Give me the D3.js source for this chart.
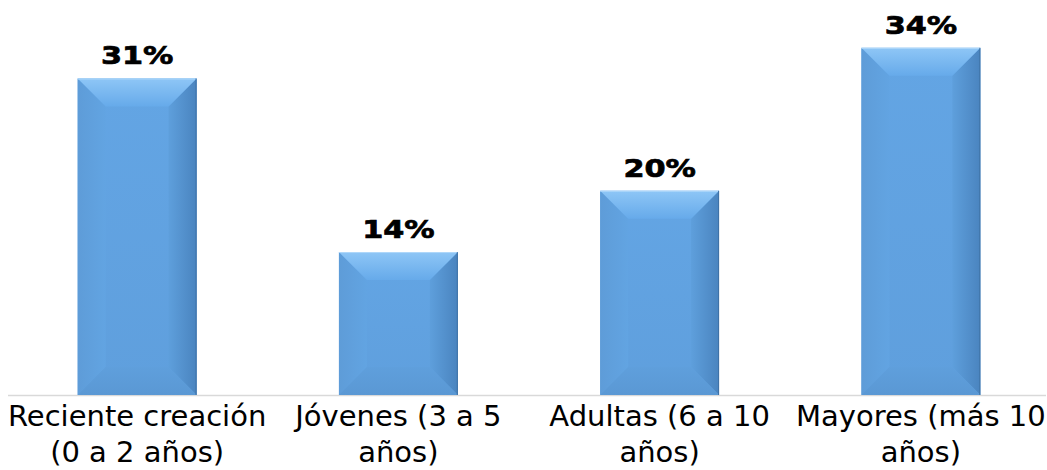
<!DOCTYPE html>
<html><head><meta charset="utf-8">
<script src="https://cdn.jsdelivr.net/npm/d3@7"></script>
<style>html,body{margin:0;padding:0;background:#fff;}svg{display:block;}</style>
</head><body>
<script>
const categories = ["Reciente creación (0 a 2 años)", "Jóvenes (3 a 5 años)", "Adultas (6 a 10 años)", "Mayores (más 10 años)"];
const labelLines = [["Reciente creación", "(0 a 2 años)"], ["Jóvenes (3 a 5", "años)"], ["Adultas (6 a 10", "años)"], ["Mayores (más 10", "años)"]];
const values = [31, 14, 20, 34];
const valueLabels = ["31%", "14%", "20%", "34%"];

const W = 1047, H = 470;
const svg = d3.select("body").append("svg").attr("width", W).attr("height", H);

const x = d3.scaleBand().domain(categories).range([6.5, 1051.5]).paddingInner(0.545).paddingOuter(0.2725);
const y = d3.scaleLinear().domain([0, 38]).range([395, 395 - 38 * 10.21]);

const defs = svg.append("defs");
function lg(id, x1, y1, x2, y2, stops) {
  const g = defs.append("linearGradient").attr("id", id).attr("x1", x1).attr("y1", y1).attr("x2", x2).attr("y2", y2);
  stops.forEach(s => g.append("stop").attr("offset", s[0]).attr("stop-color", s[1]));
}
lg("gTop", 0, 0, 0, 1, [[0, "#8ec6f6"], [1, "#66aaea"]]);
lg("gLeft", 0, 0, 1, 0, [[0, "#5e9cd8"], [1, "#62a4e2"]]);
lg("gRight", 0, 0, 1, 0, [[0, "#5e9fdc"], [1, "#4a84bf"]]);
lg("gBottom", 0, 0, 0, 1, [[0, "#5f9fdc"], [1, "#5a98d4"]]);
lg("gCenter", 0, 0, 0, 1, [[0, "#63a5e4"], [1, "#5f9fdd"]]);

// axis baseline
svg.append("line").attr("x1", 8).attr("x2", 1046).attr("y1", y(0) + 0.5).attr("y2", y(0) + 0.5)
  .attr("stroke", "#d9d9d9").attr("stroke-width", 1.5);

const bars = svg.append("g").selectAll("g").data(values).join("g");
bars.each(function(v, i) {
  const g = d3.select(this);
  const x0 = x(categories[i]), w = x.bandwidth();
  const y0 = y(v), y1 = y(0), h = y1 - y0;
  const b = Math.min(28, w / 2, h / 2);
  const pt = a => a.map(p => p.join(",")).join(" ");
  g.append("rect").attr("x", x0).attr("y", y0).attr("width", w).attr("height", h).attr("fill", "url(#gCenter)");
  g.append("polygon").attr("points", pt([[x0, y0], [x0 + b, y0 + b], [x0 + b, y1 - b], [x0, y1]])).attr("fill", "url(#gLeft)");
  g.append("polygon").attr("points", pt([[x0 + w, y0], [x0 + w - b, y0 + b], [x0 + w - b, y1 - b], [x0 + w, y1]])).attr("fill", "url(#gRight)");
  g.append("polygon").attr("points", pt([[x0, y1], [x0 + b, y1 - b], [x0 + w - b, y1 - b], [x0 + w, y1]])).attr("fill", "url(#gBottom)");
  g.append("polygon").attr("points", pt([[x0, y0], [x0 + b, y0 + b], [x0 + w - b, y0 + b], [x0 + w, y0]])).attr("fill", "url(#gTop)");
  g.append("line").attr("x1", x0).attr("x2", x0 + w).attr("y1", y0 + 0.5).attr("y2", y0 + 0.5).attr("stroke", "#b0d8fa").attr("stroke-width", 1);
  g.append("line").attr("x1", x0 + w - 0.5).attr("x2", x0 + w - 0.5).attr("y1", y0).attr("y2", y1).attr("stroke", "#3f72a6").attr("stroke-width", 1);
});

// value labels
svg.append("g").selectAll("text").data(values).join("text")
  .attr("x", (d, i) => x(categories[i]) + x.bandwidth() / 2)
  .attr("y", d => y(d) - 14)
  .attr("text-anchor", "middle")
  .attr("font-family", "DejaVu Sans, Verdana, sans-serif")
  .attr("font-weight", "bold").attr("font-size", 25)
  .attr("fill", "#000").attr("stroke", "#000").attr("stroke-width", 0.7)
  .attr("textLength", 72.5).attr("lengthAdjust", "spacingAndGlyphs")
  .text((d, i) => valueLabels[i]);

// category labels
const lab = svg.append("g").selectAll("text").data(categories).join("text")
  .attr("text-anchor", "middle")
  .attr("font-family", "DejaVu Sans, Verdana, sans-serif")
  .attr("font-size", 29)
  .attr("fill", "#000");
lab.each(function(c, i) {
  const t = d3.select(this);
  const cx = x(c) + x.bandwidth() / 2;
  labelLines[i].forEach((ln, j) => {
    t.append("tspan").attr("x", cx).attr("y", 426 + j * 36).text(ln);
  });
});
</script>
</body></html>
